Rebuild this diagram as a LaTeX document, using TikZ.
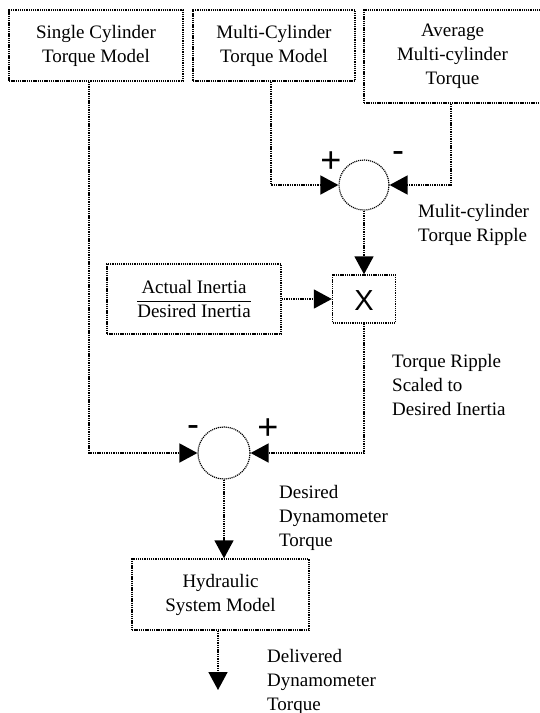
\documentclass[tikz,border=0pt]{standalone}
\usepackage{fontspec}
\setmainfont{Liberation Serif}
\newfontfamily\signfont{Liberation Sans}
\usetikzlibrary{arrows.meta}

\tikzstyle{blockNode} = [rectangle, text centered, align=center, draw=black, line width=1.4pt, dash pattern=on 1.3pt off 0.9pt, inner sep=0pt]
\tikzstyle{sumNode} = [circle, minimum size=50pt, inner sep=0pt, draw=black, line width=1.2pt, dash pattern=on 1.1pt off 0.9pt]
\tikzstyle{labelNode} = [anchor=north west, align=left, inner sep=0pt]
\tikzstyle{signNode} = [font=\signfont\fontsize{36}{36}\selectfont, inner sep=0pt, anchor=base]
\tikzstyle{arrow} = [line width=1.6pt, dash pattern=on 1.4pt off 0.9pt, -{Triangle[length=18pt,width=19pt]}]

\begin{document}
\begin{tikzpicture}[x=1pt, y=1pt, font=\fontsize{19}{24}\selectfont]
    \useasboundingbox (0,0) rectangle (539,-713);

    \node (scm)[blockNode, minimum width=174pt, minimum height=71pt] at (96,-45.5) {Single Cylinder\\Torque Model};
    \node (mcm)[blockNode, minimum width=162pt, minimum height=71pt] at (274,-45.5) {Multi-Cylinder\\Torque Model};
    \node (avg)[blockNode, minimum width=177pt, minimum height=93pt] at (452.5,-56.5) {Average\\Multi-cylinder\\Torque};

    \node (sum1)[sumNode] at (364,-185) {};
    \node (mult)[blockNode, minimum width=63pt, minimum height=48pt] at (364,-299) {};
    \node (multX)[font=\signfont\fontsize{29}{29}\selectfont, inner sep=0pt] at (364,-301) {X};
    \node (inertia)[blockNode, minimum width=174pt, minimum height=70pt] at (194,-299) {$\displaystyle\frac{\hbox{Actual Inertia}}{\hbox{Desired Inertia}}$};

    \node (sum2)[sumNode, minimum size=52pt] at (224,-453) {};
    \node (hyd)[blockNode, minimum width=177pt, minimum height=71pt] at (220.5,-594.5) {Hydraulic\\System Model};
    \coordinate (out) at (218,-690);

    % signs at the summing junctions
    \node (plus1)[signNode] at (331,-172) {+};
    \node (minus1)[signNode] at (398,-162.5) {-};
    \node (minus2)[signNode] at (193,-436.5) {-};
    \node (plus2)[signNode] at (268,-439) {+};

    % signal names
    \node (ripple)[labelNode] at (418,-204.5) {Mulit-cylinder\\Torque Ripple};
    \node (scaled)[labelNode] at (392,-354) {Torque Ripple\\Scaled to\\Desired Inertia};
    \node (desired)[labelNode] at (279,-485) {Desired\\Dynamometer\\Torque};
    \node (delivered)[labelNode] at (267,-649) {Delivered\\Dynamometer\\Torque};

    \draw [arrow] ([xshift=-3pt]mcm.south) |- (sum1.west);
    \draw [arrow] ([xshift=-1.5pt]avg.south) |- (sum1.east);
    \draw [arrow] (sum1) -- (mult);
    \draw [arrow] (inertia) -- (mult);
    \draw [arrow] ([xshift=-7pt]scm.south) |- (sum2.west);
    \draw [arrow] (mult.south) |- (sum2.east);
    \draw [arrow] (sum2.south) -- (sum2.south |- hyd.north);
    \draw [arrow] ([xshift=-2.5pt]hyd.south) -- (out);
\end{tikzpicture}
\end{document}
